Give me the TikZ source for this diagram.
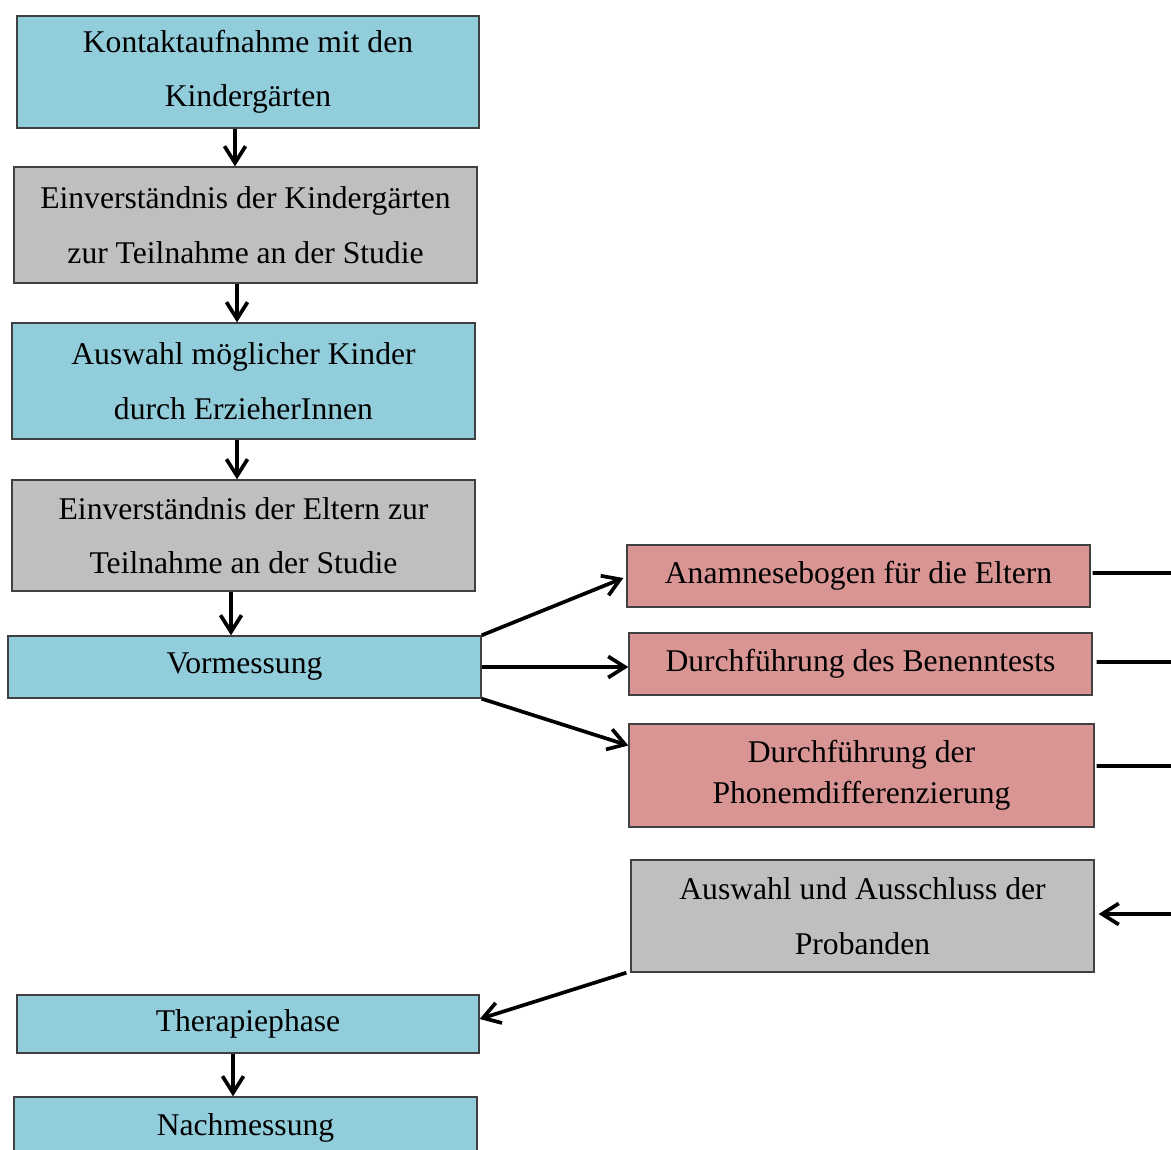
\documentclass[tikz,border=0pt]{standalone}
\usepackage{fontspec}
\setmainfont{Liberation Serif}
\usepackage{tikz}
\usetikzlibrary{arrows.meta}
\definecolor{boxblue}{HTML}{92CDDC}
\definecolor{boxgrey}{HTML}{BFBFBF}
\definecolor{boxpink}{HTML}{D99594}
\definecolor{boxline}{HTML}{404040}
\tikzset{
  stepbox/.style={draw=boxline, line width=0.8pt, inner sep=0pt, align=center,
    font=\fontsize{18}{31}\selectfont},
  bluebox/.style={stepbox, fill=boxblue},
  greybox/.style={stepbox, fill=boxgrey},
  pinkbox/.style={stepbox, fill=boxpink},
  flow/.style={line width=2.1pt, -{Straight Barb[length=9.5pt,width=12pt,line width=2.1pt]}},
  flowline/.style={line width=2.1pt}
}
\begin{document}
\begin{tikzpicture}[x=0.02cm,y=-0.02cm]
\useasboundingbox (0,0) rectangle (1171,1150);

	\node[bluebox,minimum width=9.24cm,minimum height=2.24cm] (kontakt) at (248,72) {Kontaktaufnahme mit den\\Kindergärten};
	\node[greybox,minimum width=9.26cm,minimum height=2.32cm] (einvkiga) at (245.5,225) {Einverständnis der Kindergärten\\zur Teilnahme an der Studie};
	\node[bluebox,minimum width=9.26cm,minimum height=2.32cm] (auswahl) at (243.5,381) {Auswahl möglicher Kinder\\durch ErzieherInnen};
	\node[greybox,minimum width=9.26cm,minimum height=2.22cm] (einveltern) at (243.5,535.5) {Einverständnis der Eltern zur\\Teilnahme an der Studie};
	\node[bluebox,minimum width=9.46cm,minimum height=1.24cm] (vorm) at (244.5,667) {Vormessung};

	\node[pinkbox,minimum width=9.26cm,minimum height=1.24cm] (anam) at (858.5,576) {Anamnesebogen für die Eltern};
	\node[pinkbox,minimum width=9.26cm,minimum height=1.24cm] (benenn) at (860.5,664) {Durchführung des Benenntests};
	\node[pinkbox,minimum width=9.30cm,minimum height=2.06cm,font=\fontsize{18}{23.3}\selectfont] (phonem) at (861.5,775.5) {Durchführung der\\Phonemdifferenzierung};
	\node[greybox,minimum width=9.26cm,minimum height=2.24cm] (probanden) at (862.5,916) {Auswahl und Ausschluss der\\Probanden};

	\node[bluebox,minimum width=9.24cm,minimum height=1.16cm] (therapie) at (248,1024) {Therapiephase};
	\node[bluebox,minimum width=9.26cm,minimum height=1.24cm] (nach) at (245.5,1128) {Nachmessung};

	\coordinate (r1) at (1171,573);
	\coordinate (r2) at (1171,662);
	\coordinate (r3) at (1171,766);
	\coordinate (r4) at (1171,914);

\draw[flow] ([xshift=-0.26cm]kontakt.south) -- ([xshift=-0.26cm]kontakt.south |- einvkiga.north);
\draw[flow] ([xshift=-0.17cm]einvkiga.south) -- ([xshift=-0.17cm]einvkiga.south |- auswahl.north);
\draw[flow] ([xshift=-0.13cm]auswahl.south) -- ([xshift=-0.13cm]auswahl.south |- einveltern.north);
\draw[flow] ([xshift=-0.25cm]einveltern.south) -- ([xshift=-0.25cm]einveltern.south |- vorm.north);
\draw[flow] (vorm.north east) -- ([xshift=-0.06cm,yshift=-0.04cm]anam.west);
\draw[flow] (vorm.east) -- (vorm.east -| benenn.west);
\draw[flow] (vorm.south east) -- ([yshift=0.6cm]phonem.west);
\draw[flowline] ([xshift=0.04cm,yshift=0.06cm]anam.east) -- (r1);
\draw[flowline] ([xshift=0.08cm,yshift=0.04cm]benenn.east) -- (r2);
\draw[flowline] ([xshift=0.04cm,yshift=0.19cm]phonem.east) -- (r3);
\draw[flow] (r4) -- ([xshift=0.08cm]r4 -| probanden.east);
\draw[flow] ([xshift=-0.08cm]probanden.south west) -- ([yshift=0.1cm]therapie.east);
\draw[flow] ([xshift=-0.3cm]therapie.south) -- ([xshift=-0.3cm]therapie.south |- nach.north);

\end{tikzpicture}
\end{document}
